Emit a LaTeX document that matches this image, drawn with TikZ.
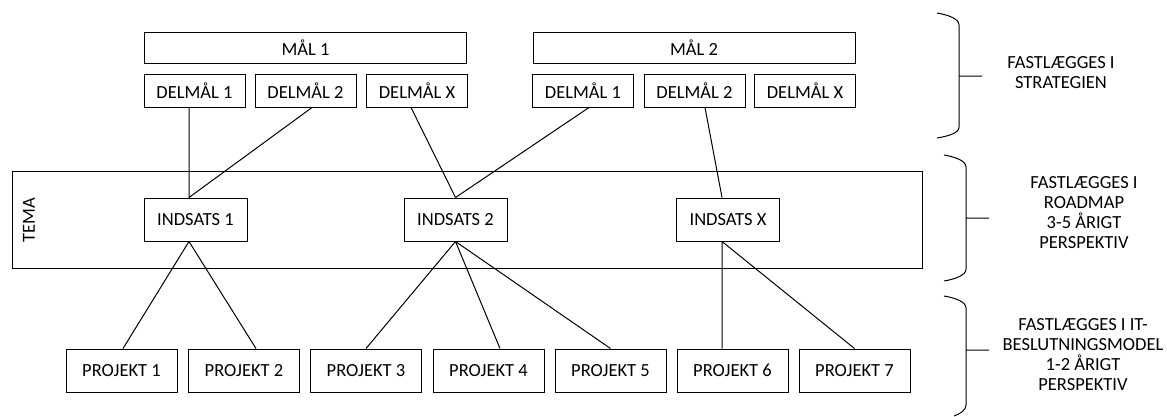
\documentclass[tikz,border=0pt]{standalone}
\usepackage{fontspec}
\setmainfont{Carlito}

\begin{document}
\begin{tikzpicture}[x=1pt, y=-1pt, font=\fontsize{18.5}{20}\selectfont, line width=1pt,
	box/.style={draw, fill=white, inner sep=0pt},
	maal/.style={box, minimum width=322pt, minimum height=31pt},
	delmaal/.style={box, minimum width=101pt, minimum height=33pt},
	indsats/.style={box, minimum width=103pt, minimum height=43pt},
	projekt/.style={box, minimum width=111pt, minimum height=43pt},
	note/.style={align=center}]
				\useasboundingbox (0,0) rectangle (1167,416);
				\node[draw, minimum width=910pt, minimum height=97pt] (tema) at (467,219.5) {};
				\node[rotate=90] (temalabel) at (29,220) {TEMA};

				\node[maal] (m1) at (305.5,47.5) {MÅL 1};
				\node[maal] (m2) at (694,47.5) {MÅL 2};
				\node[delmaal] (d11) at (194.5,90.5) {DELMÅL 1};
				\node[delmaal] (d12) at (305.5,90.5) {DELMÅL 2};
				\node[delmaal] (d1x) at (417,90.5) {DELMÅL X};
				\node[delmaal] (d21) at (583,90.5) {DELMÅL 1};
				\node[delmaal] (d22) at (694.5,90.5) {DELMÅL 2};
				\node[delmaal] (d2x) at (805,90.5) {DELMÅL X};

				\node[indsats] (i1) at (195.5,219.5) {INDSATS 1};
				\node[indsats] (i2) at (455.5,219.5) {INDSATS 2};
				\node[indsats] (ix) at (728,219.5) {INDSATS X};

				\node[projekt] (p1) at (121.5,370.5) {PROJEKT 1};
				\node[projekt] (p2) at (244,370.5) {PROJEKT 2};
				\node[projekt] (p3) at (366,370.5) {PROJEKT 3};
				\node[projekt] (p4) at (488.5,370.5) {PROJEKT 4};
				\node[projekt] (p5) at (610.5,370.5) {PROJEKT 5};
				\node[projekt] (p6) at (732.5,370.5) {PROJEKT 6};
				\node[projekt] (p7) at (854.5,370.5) {PROJEKT 7};

				\draw ([xshift=-5.5pt]d11.south) -- ([xshift=-6.5pt]i1.north) ([xshift=6.5pt]d12.south) -- ([xshift=-6.5pt]i1.north)
					([xshift=-6pt]d1x.south) -- (i2.north) ([xshift=6pt]d21.south) -- (i2.north)
					([xshift=10.5pt]d22.south) -- ([xshift=-6pt]ix.north);
				\draw ([xshift=-6.5pt]i1.south) -- ([xshift=1.5pt]p1.north) ([xshift=-6.5pt]i1.south) -- ([xshift=12pt]p2.north)
					(i2.south) -- (p3.north) (i2.south) -- ([xshift=11.5pt]p4.north) (i2.south) -- (p5.north)
					([xshift=-6pt]ix.south) -- ([xshift=-10.5pt]p6.north) ([xshift=-6pt]ix.south) -- (p7.north);

				\draw (937,13) .. controls (949,15) and (959,19) .. (959,25) -- (959,127) .. controls (959,133) and (949,136) .. (937,138) (959,76) -- (982,76);
				\draw (944,155) .. controls (956,157) and (966,161) .. (966,167) -- (966,269) .. controls (966,275) and (956,279) .. (944,281) (966,218) -- (989,218);
				\draw (944,296) .. controls (956,298) and (966,302) .. (966,308) -- (966,405) .. controls (966,410) and (960,414) .. (954,416) (966,350) -- (989,350);

				\node[note] (strategi) at (1061,73) {FASTLÆGGES I\\STRATEGIEN};
				\node[note] (roadmap) at (1084,213) {FASTLÆGGES I\\ROADMAP\\3-5 ÅRIGT\\PERSPEKTIV};
				\node[note] (model) at (1083,355) {FASTLÆGGES I IT-\\BESLUTNINGSMODEL\\1-2 ÅRIGT\\PERSPEKTIV};
			\end{tikzpicture}
\end{document}
